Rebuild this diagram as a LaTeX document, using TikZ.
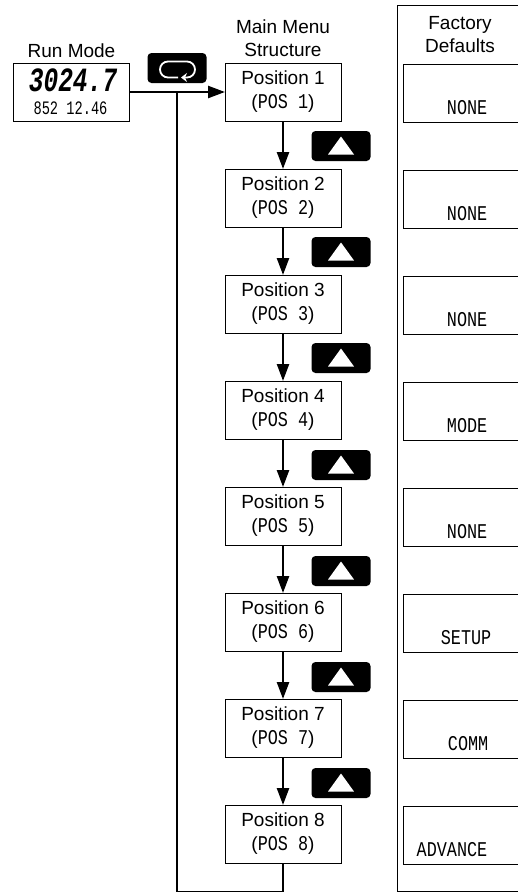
\documentclass[tikz,border=0pt]{standalone}
\usepackage{fontspec}
\setmainfont{Liberation Sans}
\newfontfamily\lcdfont[FakeStretch=0.8]{Liberation Mono}
\newfontfamily\lcdnarrow[FakeStretch=0.72]{Liberation Mono}
\newcommand{\lcdpos}[1]{{\lcdfont\fontsize{21}{24}\selectfont #1}}
\usetikzlibrary{positioning,arrows.meta,calc}
\tikzset{
  menubox/.style={draw, line width=0.9pt, minimum width=116pt, minimum height=58pt, align=center, inner sep=0pt, outer sep=0pt, font=\fontsize{19}{24}\selectfont},
  factbox/.style={draw, line width=0.9pt, minimum width=130pt, minimum height=58pt, inner sep=0pt, outer sep=0pt},
  keybox/.style={fill=black, rounded corners=4pt, minimum width=59pt, minimum height=30pt, inner sep=0pt, outer sep=0pt},
  upkey/.style={keybox,
    path picture={\fill[white, sharp corners] (path picture bounding box.center) ++(-13,8.5) -- ++(26,0) -- ++(-13,-18) -- cycle;}},
  loopkey/.style={keybox,
    path picture={\draw[white, line width=1.8pt, rounded corners=8pt, -{Stealth[length=6pt,width=9pt]}]
      (path picture bounding box.center) ++(1,9.5) -- ++(-18,0) -- ++(0,-16) -- ++(35,0) -- ++(0,16) -- ++(-14,0);}},
  lcdtext/.style={anchor=south east, inner sep=0pt, font=\lcdfont\fontsize{21}{21}\selectfont},
  heading/.style={align=center, inner sep=0pt, font=\fontsize{19}{23}\selectfont},
  flow/.style={-{Triangle[width=12pt,length=17pt]}, line width=2.4pt},
  flowline/.style={line width=2.4pt}
}
\begin{document}
\begin{tikzpicture}[x=1pt, y=-1pt, node distance=48pt]
    \clip (0,0) rectangle (518,892);

    % run mode
    \node[menubox] (runbox) at (71.5,92) {};
    \node[heading, above=5pt of runbox] (runlabel) {Run Mode};
    \node[inner sep=0pt, font=\lcdnarrow\itshape\bfseries\fontsize{34}{34}\selectfont] (runvalue) at (73,80) {3024.7};
    \node[inner sep=0pt, font=\lcdnarrow\fontsize{19}{19}\selectfont] (runsub) at (70.5,108) {852 12.46};

    % main menu
    \node[menubox] (pos1) at (283,92) {Position 1\\(\lcdpos{POS 1})};
    \node[menubox, below=48pt of pos1] (pos2) {Position 2\\(\lcdpos{POS 2})};
    \node[menubox, below=48pt of pos2] (pos3) {Position 3\\(\lcdpos{POS 3})};
    \node[menubox, below=48pt of pos3] (pos4) {Position 4\\(\lcdpos{POS 4})};
    \node[menubox, below=48pt of pos4] (pos5) {Position 5\\(\lcdpos{POS 5})};
    \node[menubox, below=48pt of pos5] (pos6) {Position 6\\(\lcdpos{POS 6})};
    \node[menubox, below=48pt of pos6] (pos7) {Position 7\\(\lcdpos{POS 7})};
    \node[menubox, below=48pt of pos7] (pos8) {Position 8\\(\lcdpos{POS 8})};
    \node[heading, above=6pt of pos1] (menulabel) {Main Menu\\Structure};

    % keys
    \node[loopkey] (loop) at (177,68) {};
    \node[upkey] (up1) at (341,146) {};
    \node[upkey] (up2) at (341,252) {};
    \node[upkey] (up3) at (341,358) {};
    \node[upkey] (up4) at (341,465) {};
    \node[upkey] (up5) at (341,571) {};
    \node[upkey] (up6) at (341,677) {};
    \node[upkey] (up7) at (341,783) {};

    % factory defaults
    \node[draw, line width=0.9pt, minimum width=140pt, minimum height=886pt, inner sep=0pt, anchor=north west] (factpanel) at (397,5) {};
    \node[factbox, anchor=north west] (fact1) at (403.5,64) {};
    \node[factbox, below=48pt of fact1] (fact2) {};
    \node[factbox, below=48pt of fact2] (fact3) {};
    \node[factbox, below=48pt of fact3] (fact4) {};
    \node[factbox, below=48pt of fact4] (fact5) {};
    \node[factbox, below=48pt of fact5] (fact6) {};
    \node[factbox, below=48pt of fact6] (fact7) {};
    \node[factbox, below=48pt of fact7] (fact8) {};
    \node[heading] (factlabel) at (460,34.5) {Factory\\Defaults};
    \node[lcdtext] (def1) at ([shift={(84,-7)}]fact1.south west) {NONE};
    \node[lcdtext] (def2) at ([shift={(84,-7)}]fact2.south west) {NONE};
    \node[lcdtext] (def3) at ([shift={(84,-7)}]fact3.south west) {NONE};
    \node[lcdtext] (def4) at ([shift={(84,-7)}]fact4.south west) {MODE};
    \node[lcdtext] (def5) at ([shift={(84,-7)}]fact5.south west) {NONE};
    \node[lcdtext] (def6) at ([shift={(88,-7)}]fact6.south west) {SETUP};
    \node[lcdtext] (def7) at ([shift={(85,-7)}]fact7.south west) {COMM};
    \node[lcdtext] (def8) at ([shift={(84,-7)}]fact8.south west) {ADVANCE};

    % connectors
    \coordinate (branch) at (177,92);
    \coordinate (bottomleft) at (177,892.6);
    \coordinate (bottomright) at (283,892.6);
    \draw[flow] (runbox) -- (pos1);
    \draw[flow] (pos1) -- (pos2);
    \draw[flow] (pos2) -- (pos3);
    \draw[flow] (pos3) -- (pos4);
    \draw[flow] (pos4) -- (pos5);
    \draw[flow] (pos5) -- (pos6);
    \draw[flow] (pos6) -- (pos7);
    \draw[flow] (pos7) -- (pos8);
    \draw[flowline] (branch) -- (bottomleft) -- (bottomright) -- (pos8);
\end{tikzpicture}
\end{document}
